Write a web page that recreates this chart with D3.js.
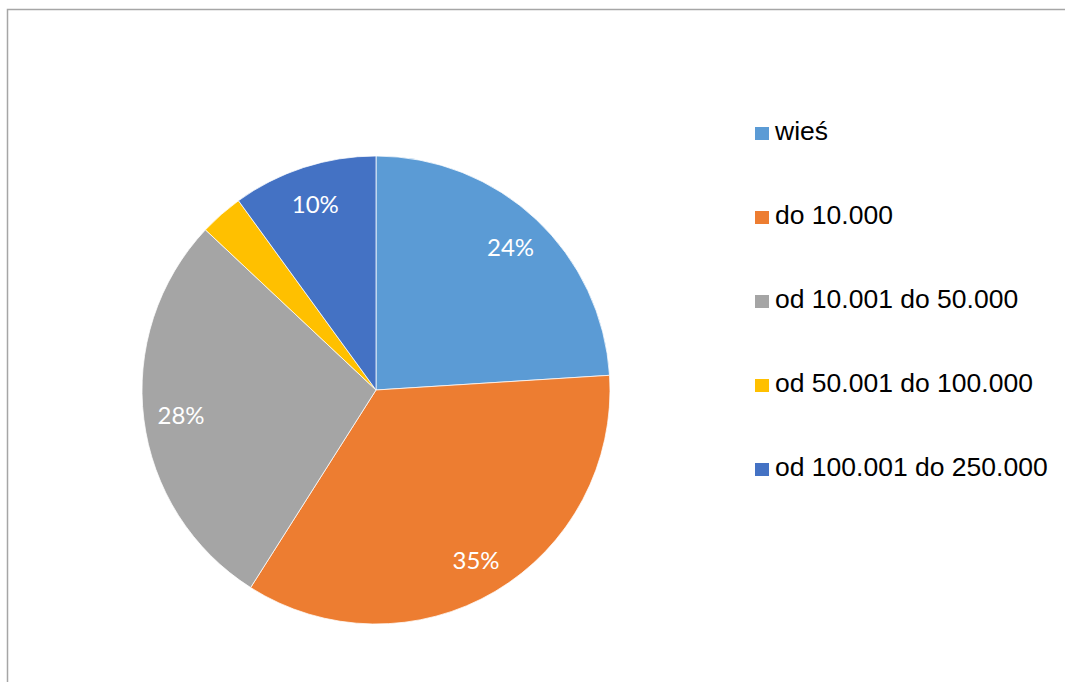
<!DOCTYPE html>
<html>
<head>
<meta charset="utf-8">
<script src="https://cdn.jsdelivr.net/npm/d3@7/dist/d3.min.js"></script>
<style>
  html, body { margin: 0; padding: 0; background: #ffffff; }
  svg { display: block; }
</style>
</head>
<body>
<svg id="chart" width="1065" height="682"></svg>
<script>
// Share of respondents by size of place of residence
const categories = ["wieś", "do 10.000", "od 10.001 do 50.000", "od 50.001 do 100.000", "od 100.001 do 250.000"];
const shares = [24, 35, 28, 3, 10];
const colors = ["#5B9BD5", "#ED7D31", "#A5A5A5", "#FFC000", "#4472C4"];
// slices whose percentage is printed on the pie
const showLabel = [true, true, true, false, true];

const svg = d3.select("#chart");

// chart area frame
svg.append("rect")
  .attr("x", 7.5).attr("y", 9.5)
  .attr("width", 1100).attr("height", 700)
  .attr("fill", "none")
  .attr("stroke", "#a6a6a6")
  .attr("stroke-width", 1.5);

const cx = 376, cy = 390, R = 234;

const data = categories.map((c, i) => ({ name: c, value: shares[i], color: colors[i], label: showLabel[i] }));
const total = d3.sum(shares);

const pie = d3.pie().sort(null).value(d => d.value);
const arc = d3.arc().innerRadius(0).outerRadius(R);
const labelArc = d3.arc().innerRadius(R * 0.84).outerRadius(R * 0.84);

const g = svg.append("g").attr("transform", `translate(${cx},${cy})`);
const arcs = pie(data);

g.selectAll("path.slice")
  .data(arcs)
  .join("path")
  .attr("class", "slice")
  .attr("d", arc)
  .attr("fill", d => d.data.color)
  .attr("stroke", "#ffffff")
  .attr("stroke-width", 0.75);

const pct = d3.format(".0%");
g.selectAll("text.pct")
  .data(arcs.filter(d => d.data.label))
  .join("text")
  .attr("class", "pct")
  .attr("transform", d => `translate(${labelArc.centroid(d)})`)
  .attr("text-anchor", "middle")
  .attr("dominant-baseline", "central")
  .attr("fill", "#ffffff")
  .style("font-family", "Lato, 'Open Sans', sans-serif")
  .style("font-size", "24px")
  .text(d => pct(d.data.value / total));

// legend
const legendY = d3.scalePoint().domain(categories).range([140, 476]);
const legend = svg.append("g");
const item = legend.selectAll("g.item")
  .data(data)
  .join("g")
  .attr("class", "item")
  .attr("transform", d => `translate(755,${legendY(d.name)})`);

item.append("rect")
  .attr("x", 0).attr("y", -13)
  .attr("width", 14).attr("height", 13)
  .attr("fill", d => d.color);

item.append("text")
  .attr("x", 20).attr("y", 0)
  .attr("fill", "#000000")
  .style("font-family", "'Liberation Sans', Arial, sans-serif")
  .style("font-size", "26.5px")
  .text(d => d.name);
</script>
</body>
</html>
